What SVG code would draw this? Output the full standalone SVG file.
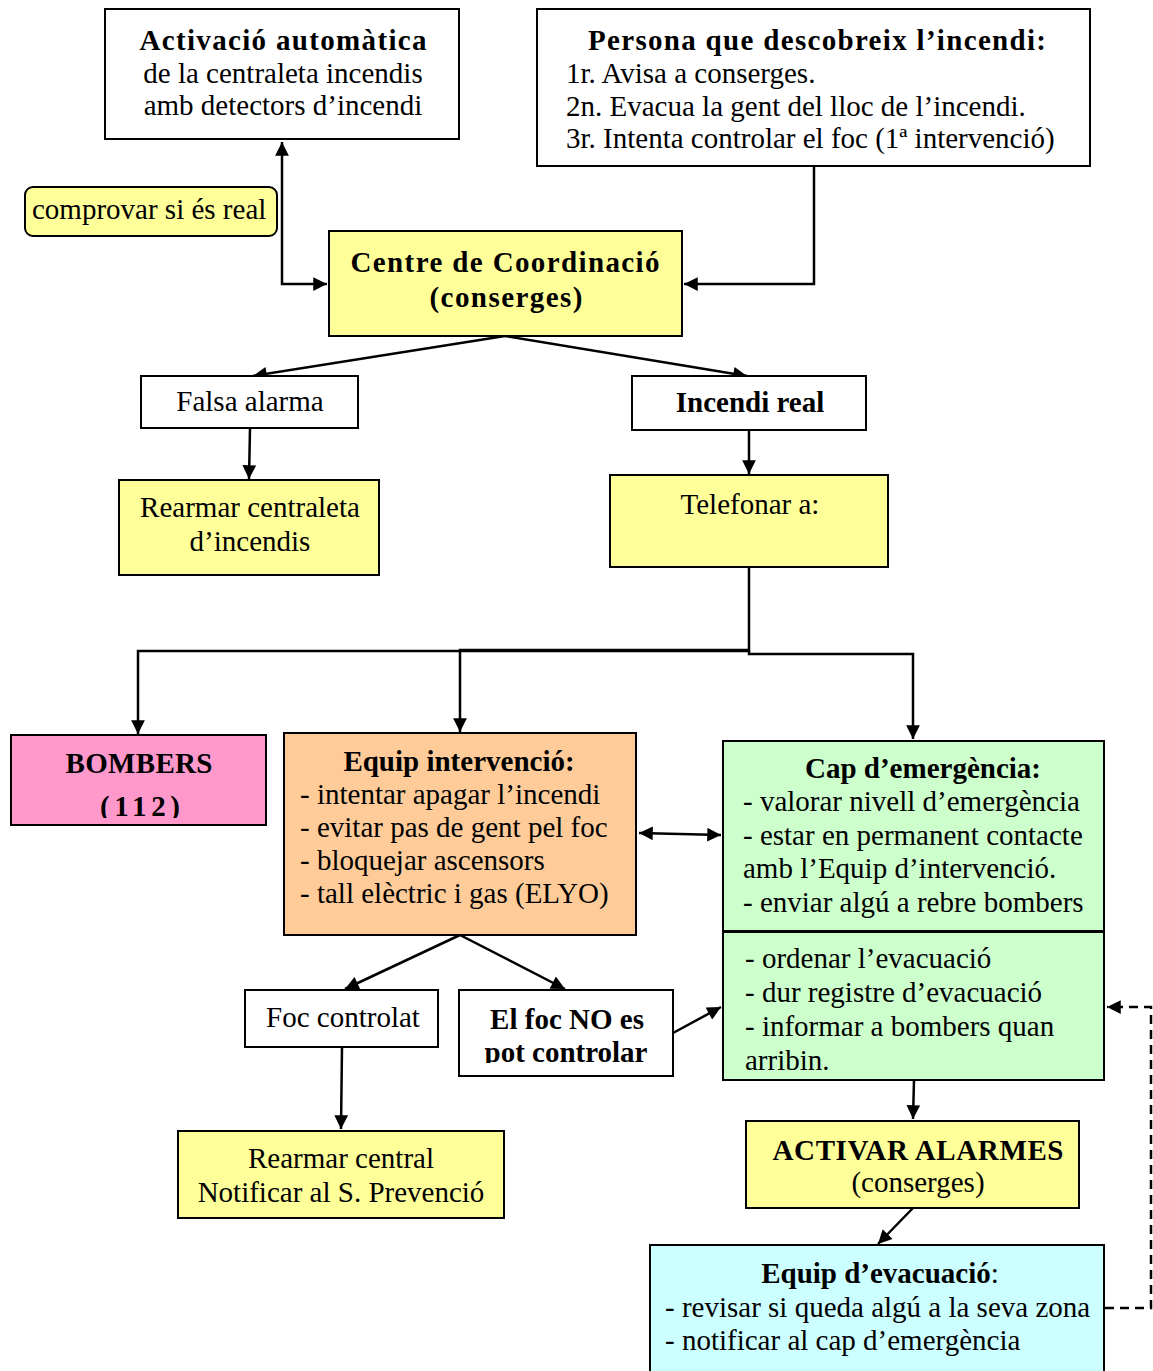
<svg xmlns="http://www.w3.org/2000/svg" width="1153" height="1371" viewBox="0 0 1153 1371">
<defs>
<style>
text{font-family:"Liberation Serif","Times New Roman",serif;font-size:29px;fill:#000}
.b{font-weight:bold}
.c{text-anchor:middle}
.box{stroke:#000;stroke-width:2}
.w{fill:#fff}.y{fill:#ffff99}.p{fill:#ff99cc}.o{fill:#ffcc99}.g{fill:#ccffcc}.cy{fill:#ccffff}
.ln{fill:none;stroke:#000;stroke-width:2.5}
.dash{fill:none;stroke:#000;stroke-width:2.5;stroke-dasharray:9,6}
</style>
<marker id="ah" viewBox="0 0 10 10" refX="10" refY="5" markerWidth="6" markerHeight="5.5" markerUnits="strokeWidth" orient="auto-start-reverse">
<path d="M0,0 L10,5 L0,10 z" fill="#000"/>
</marker>
<clipPath id="clipB"><rect x="11" y="735" width="255" height="83"/></clipPath>
<clipPath id="clipF"><rect x="459" y="990" width="214" height="73"/></clipPath>
</defs>

<g id="connectors">
<path class="ln" d="M282,142 V284 H327" marker-start="url(#ah)" marker-end="url(#ah)"/>
<path class="ln" d="M814,166 V284 H684" marker-end="url(#ah)"/>
<path class="ln" d="M505,336 L253,376" marker-end="url(#ah)"/>
<path class="ln" d="M505,336 L747,376" marker-end="url(#ah)"/>
<path class="ln" d="M250,428 L249,479" marker-end="url(#ah)"/>
<path class="ln" d="M749,430 V474" marker-end="url(#ah)"/>
<path class="ln" d="M749,567 V651 H138 V734" marker-end="url(#ah)"/>
<path class="ln" d="M749,650 H460 V732" marker-end="url(#ah)"/>
<path class="ln" d="M749,651 V654 H913 V739" marker-end="url(#ah)"/>
<path class="ln" d="M639,833 L721,835" marker-start="url(#ah)" marker-end="url(#ah)"/>
<path class="ln" d="M460,935 L345,989" marker-end="url(#ah)"/>
<path class="ln" d="M460,935 L565,989" marker-end="url(#ah)"/>
<path class="ln" d="M673,1033 L721,1007" marker-end="url(#ah)"/>
<path class="ln" d="M342,1047 L341,1129" marker-end="url(#ah)"/>
<path class="ln" d="M914,1080 L913,1119" marker-end="url(#ah)"/>
<path class="ln" d="M913,1208 L878,1244" marker-end="url(#ah)"/>
<path class="dash" d="M1105,1308 H1151 V1007 H1107" marker-end="url(#ah)"/>
</g>

<g id="n-activacio">
<rect class="box w" x="105" y="9" width="354" height="130"/>
<text class="b c" x="283" y="50" textLength="287">Activació automàtica</text>
<text class="c" x="283" y="83">de la centraleta incendis</text>
<text class="c" x="283" y="115">amb detectors d’incendi</text>
</g>

<g id="n-persona">
<rect class="box w" x="537" y="9" width="553" height="157"/>
<text class="b c" x="817" y="50" textLength="458">Persona que descobreix l’incendi:</text>
<text x="566" y="83">1r. Avisa a conserges.</text>
<text x="566" y="116">2n. Evacua la gent del lloc de l’incendi.</text>
<text x="566" y="148">3r. Intenta controlar el foc (1ª intervenció)</text>
</g>

<g id="n-comprovar">
<rect class="box y" x="25" y="187" width="252" height="49" rx="8"/>
<text x="32" y="219">comprovar si és real</text>
</g>

<g id="n-centre">
<rect class="box y" x="329" y="231" width="353" height="105"/>
<text class="b c" x="505" y="272" textLength="309">Centre de Coordinació</text>
<text class="b c" x="506" y="307" textLength="153">(conserges)</text>
</g>

<g id="n-falsa">
<rect class="box w" x="141" y="376" width="217" height="52"/>
<text class="c" x="250" y="411">Falsa alarma</text>
</g>

<g id="n-incendi">
<rect class="box w" x="632" y="376" width="234" height="54"/>
<text class="b c" x="750" y="412">Incendi real</text>
</g>

<g id="n-rearmar1">
<rect class="box y" x="119" y="480" width="260" height="95"/>
<text class="c" x="250" y="517">Rearmar centraleta</text>
<text class="c" x="250" y="551">d’incendis</text>
</g>

<g id="n-telefonar">
<rect class="box y" x="610" y="475" width="278" height="92"/>
<text class="c" x="750" y="514">Telefonar a:</text>
</g>

<g id="n-bombers">
<rect class="box p" x="11" y="735" width="255" height="90"/>
<text class="b c" x="139" y="773" textLength="147">BOMBERS</text>
<text class="b c" x="140" y="816" font-size="33" textLength="80" clip-path="url(#clipB)">(112)</text>
</g>

<g id="n-equip">
<rect class="box o" x="284" y="733" width="352" height="202"/>
<text class="b c" x="459" y="771">Equip intervenció:</text>
<text x="300" y="804">- intentar apagar l’incendi</text>
<text x="300" y="837">- evitar pas de gent pel foc</text>
<text x="300" y="870">- bloquejar ascensors</text>
<text x="300" y="903">- tall elèctric i gas (ELYO)</text>
</g>

<g id="n-cap">
<rect class="box g" x="723" y="741" width="381" height="190"/>
<text class="b c" x="923" y="778">Cap d’emergència:</text>
<text x="743" y="811">- valorar nivell d’emergència</text>
<text x="743" y="845">- estar en permanent contacte</text>
<text x="743" y="878">amb l’Equip d’intervenció.</text>
<text x="743" y="912">- enviar algú a rebre bombers</text>
</g>

<g id="n-cap2">
<rect class="box g" x="723" y="932" width="381" height="148"/>
<text x="745" y="968">- ordenar l’evacuació</text>
<text x="745" y="1002">- dur registre d’evacuació</text>
<text x="745" y="1036">- informar a bombers quan</text>
<text x="745" y="1070">arribin.</text>
</g>

<g id="n-foccontrolat">
<rect class="box w" x="245" y="990" width="193" height="57"/>
<text class="c" x="343" y="1027">Foc controlat</text>
</g>

<g id="n-focno">
<rect class="box w" x="459" y="990" width="214" height="86"/>
<g clip-path="url(#clipF)">
<text class="b c" x="567" y="1029">El foc NO es</text>
<text class="b c" x="566" y="1062">pot controlar</text>
</g>
</g>

<g id="n-rearmar2">
<rect class="box y" x="178" y="1131" width="326" height="87"/>
<text class="c" x="341" y="1168">Rearmar central</text>
<text class="c" x="341" y="1202">Notificar al S. Prevenció</text>
</g>

<g id="n-activar">
<rect class="box y" x="746" y="1121" width="333" height="87"/>
<text class="b c" x="918" y="1160" textLength="291">ACTIVAR ALARMES</text>
<text class="c" x="918" y="1192">(conserges)</text>
</g>

<g id="n-evacuacio">
<rect class="box cy" x="650" y="1245" width="454" height="140"/>
<text class="c" x="880" y="1283"><tspan class="b">Equip d’evacuació</tspan>:</text>
<text x="665" y="1317">- revisar si queda algú a la seva zona</text>
<text x="665" y="1350">- notificar al cap d’emergència</text>
</g>
</svg>
